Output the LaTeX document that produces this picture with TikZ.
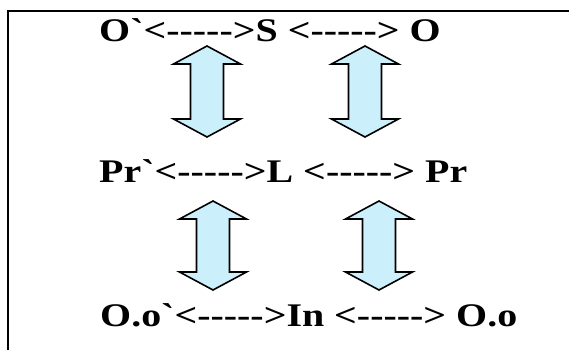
\documentclass[tikz,border=0pt]{standalone}
\usepackage{fontspec}
\newfontfamily\rowfont{Liberation Serif}
\begin{document}
\begin{tikzpicture}[x=1pt,y=-1pt,
  rowtext/.style={anchor=base west,inner sep=0pt,font=\rowfont\fontsize{33}{38}\selectfont\bfseries},
  dblarrow/.style={draw=black,line width=1.6pt,fill=cyan!20,line join=miter}]
\useasboundingbox (0,0) rectangle (569,350);
\draw[line width=2pt] (8,350) -- (8,11) -- (569,11);
\node[rowtext] (r1) at (99,42) {\scalebox{1.21}[1]{O`<----->S <-----> O}};
\node[rowtext] (r2) at (99,182) {\scalebox{1.21}[1]{Pr`<----->L <-----> Pr}};
\node[rowtext] (r3) at (100,326) {\scalebox{1.21}[1]{O.o`<----->In <-----> O.o}};
\foreach \n/\cx/\ty/\by in {a1/207/46/137, a2/365/46/137, a3/213/201/290, a4/379/201/290}{
  \draw[dblarrow] (\cx,\ty) -- ++(33.5,18) -- ++(-17,0) -- (\cx+16.5,\by-18) -- ++(17,0)
    -- (\cx,\by) -- (\cx-33.5,\by-18) -- ++(17,0) -- (\cx-16.5,\ty+18) -- ++(-17,0) -- cycle;
}
\end{tikzpicture}
\end{document}
